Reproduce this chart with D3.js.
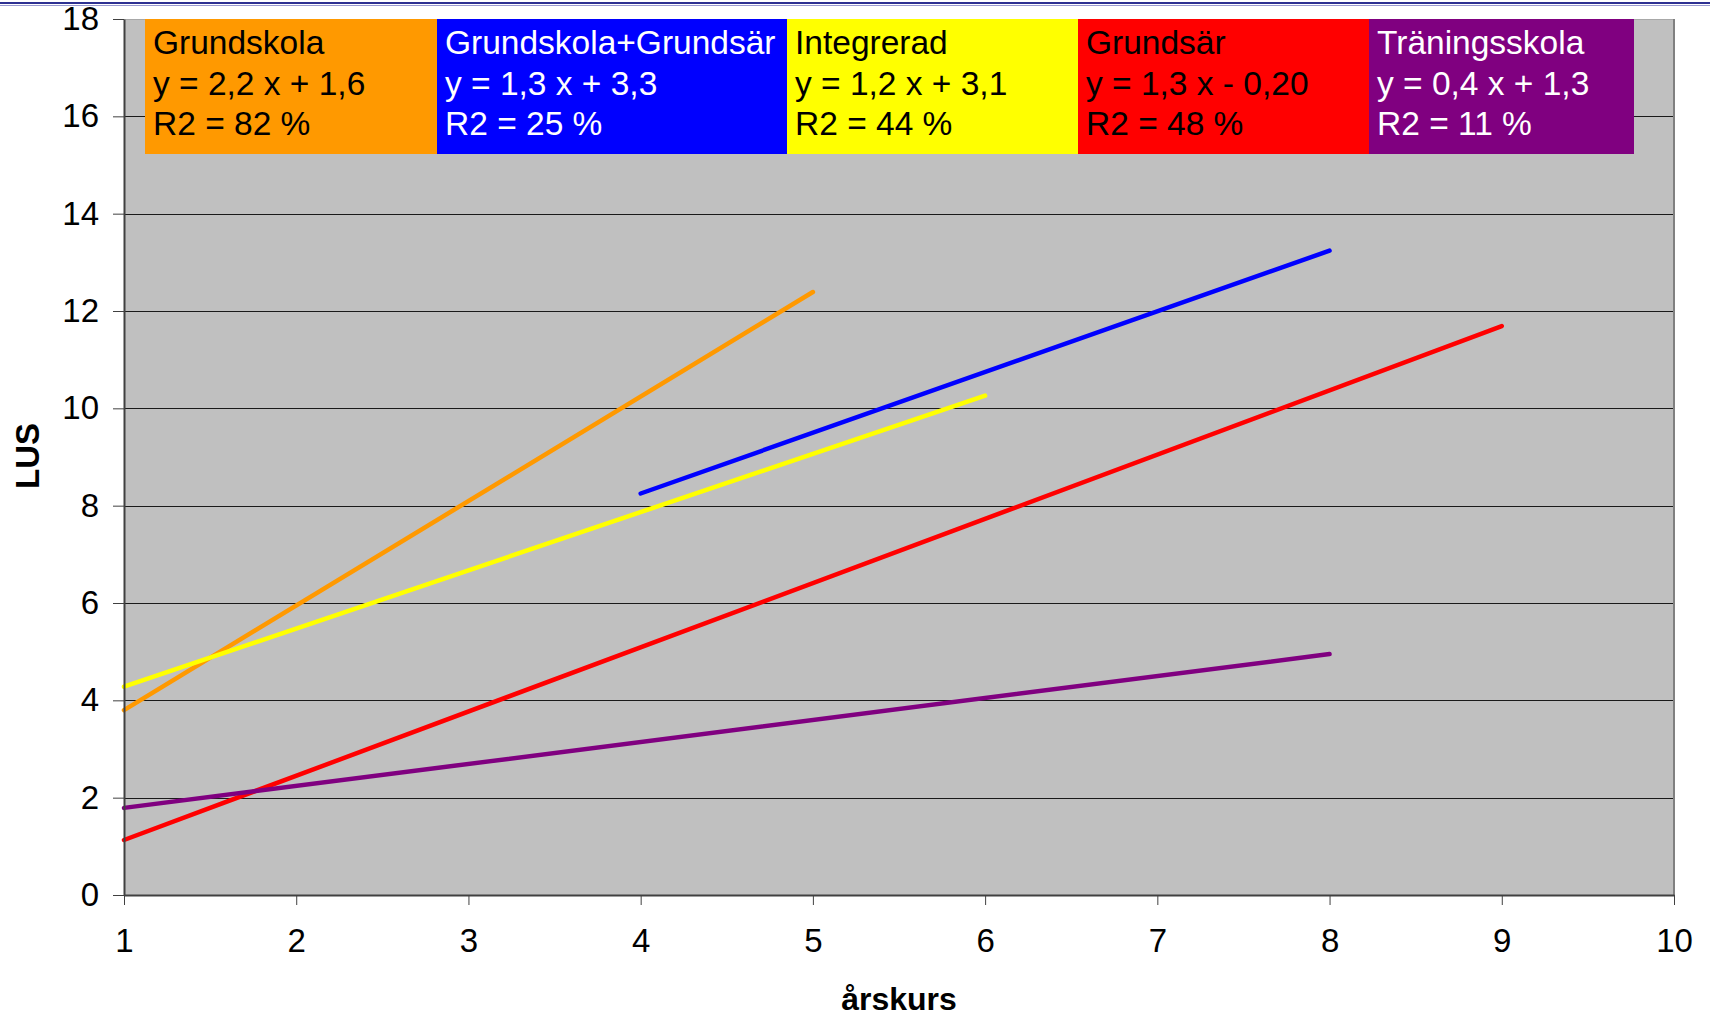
<!DOCTYPE html>
<meta charset="utf-8">
<style>
    body { margin: 0; background: #fff; }
    svg { display: block; font-family: "Liberation Sans", Arial, sans-serif; }
</style>
<svg width="1710" height="1016"></svg>

<script src="https://d3js.org/d3.v7.min.js"></script>
<script>
    // data
    var schools = ["Grundskola", "Grundskola+Grundsär", "Integrerad", "Grundsär", "Träningsskola"],
        equations = ["y = 2,2 x + 1,6", "y = 1,3 x + 3,3", "y = 1,2 x + 3,1", "y = 1,3 x - 0,20", "y = 0,4 x + 1,3"],
        r2Labels = ["R2 = 82 %", "R2 = 25 %", "R2 = 44 %", "R2 = 48 %", "R2 = 11 %"],
        xStart = [1, 4, 1, 1, 1],
        xEnd = [5, 8, 6, 9, 8],
        yStart = [3.80, 8.25, 4.28, 1.13, 1.79],
        yEnd = [12.39, 13.24, 10.26, 11.69, 4.95],
        xTicks = [1, 2, 3, 4, 5, 6, 7, 8, 9, 10],
        yTicks = [0, 2, 4, 6, 8, 10, 12, 14, 16, 18];

    // styles
    var lineColors = ["#ff9900", "#0000ff", "#ffff00", "#ff0000", "#800080"],
        textColors = ["#000", "#fff", "#000", "#000", "#fff"],
        boxWidths = [292, 350, 291, 291, 265];

    (function () {
        var svg = d3.select("svg"),
            left = 124, right = 1674, top = 19, bottom = 895,
            x = d3.scaleLinear().domain([1, 10]).range([left, right]),
            y = d3.scaleLinear().domain([0, 18]).range([bottom, top]);

        // double rule at the top of the slide
        svg.append("rect").attr("x", 0).attr("y", 2).attr("width", 1710).attr("height", 2).attr("fill", "#2e3192");
        svg.append("rect").attr("x", 0).attr("y", 5).attr("width", 1710).attr("height", 1).attr("fill", "#9a9ad0");

        svg.append("rect")
            .attr("x", left).attr("y", top)
            .attr("width", right - left).attr("height", bottom - top)
            .attr("fill", "#c0c0c0");

        // gridlines
        svg.append("g")
            .selectAll("line")
            .data(yTicks.slice(1))
            .enter().append("line")
            .attr("x1", left).attr("x2", right)
            .attr("y1", function (d) { return Math.round(y(d)) + 0.5; })
            .attr("y2", function (d) { return Math.round(y(d)) + 0.5; })
            .attr("stroke", "#1a1a1a").attr("stroke-width", 1);

        // frame: top and right grey
        svg.append("line").attr("x1", left).attr("x2", right).attr("y1", top + 0.5).attr("y2", top + 0.5)
            .attr("stroke", "#a8a8a8").attr("stroke-width", 1);
        svg.append("line").attr("x1", right).attr("x2", right).attr("y1", top).attr("y2", bottom)
            .attr("stroke", "#808080").attr("stroke-width", 2);

        // legend boxes
        var boxX = [];
        boxWidths.reduce(function (acc, w) { boxX.push(acc); return acc + w; }, 145);
        var box = svg.append("g").selectAll("g")
            .data(schools)
            .enter().append("g")
            .attr("transform", function (d, i) { return "translate(" + boxX[i] + "," + top + ")"; });
        box.append("rect")
            .attr("width", function (d, i) { return boxWidths[i]; })
            .attr("height", 135)
            .attr("fill", function (d, i) { return lineColors[i]; });
        box.each(function (d, i) {
            var g = d3.select(this);
            [d, equations[i], r2Labels[i]].forEach(function (t, k) {
                g.append("text")
                    .attr("x", 8)
                    .attr("y", 35 + k * 40.5)
                    .attr("font-size", 33.5)
                    .attr("fill", textColors[i])
                    .text(t);
            });
        });

        // regression lines
        svg.append("g")
            .selectAll("line")
            .data(schools)
            .enter().append("line")
            .attr("x1", function (d, i) { return x(xStart[i]); })
            .attr("y1", function (d, i) { return y(yStart[i]); })
            .attr("x2", function (d, i) { return x(xEnd[i]); })
            .attr("y2", function (d, i) { return y(yEnd[i]); })
            .attr("stroke", function (d, i) { return lineColors[i]; })
            .attr("stroke-width", 4.5)
            .attr("stroke-linecap", "round");

        // axes
        var yAxis = svg.append("g")
            .attr("transform", "translate(" + left + ",0)")
            .call(d3.axisLeft(y).tickValues(yTicks).tickSize(11).tickSizeOuter(0).tickPadding(14));
        var xAxis = svg.append("g")
            .attr("transform", "translate(0," + bottom + ")")
            .call(d3.axisBottom(x).tickValues(xTicks).tickSize(10).tickSizeOuter(0).tickPadding(24));

        [yAxis, xAxis].forEach(function (a) {
            a.select(".domain").attr("stroke", "#404040").attr("stroke-width", 2);
            a.selectAll(".tick line").attr("stroke", "#404040");
            a.selectAll(".tick text")
                .attr("font-family", "'Liberation Sans', Arial, sans-serif")
                .attr("font-size", 33)
                .attr("fill", "#000");
        });

        svg.append("text")
            .attr("transform", "translate(39,456) rotate(-90)")
            .attr("text-anchor", "middle")
            .attr("font-size", 33)
            .attr("font-weight", "bold")
            .text("LUS");

        svg.append("text")
            .attr("x", 899).attr("y", 1010)
            .attr("text-anchor", "middle")
            .attr("font-size", 32)
            .attr("font-weight", "bold")
            .text("årskurs");
    })();
</script>
